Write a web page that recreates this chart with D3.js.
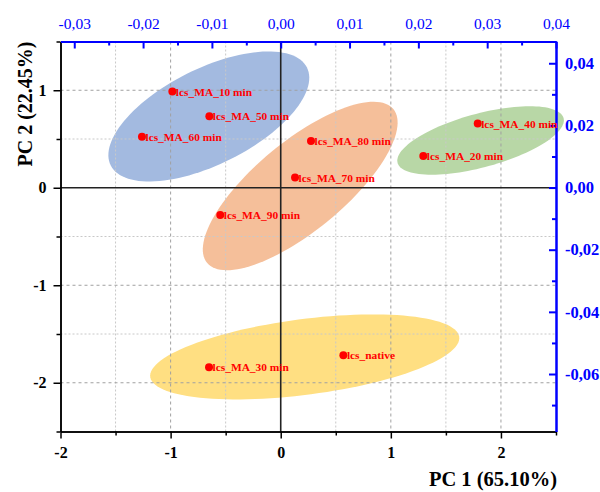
<!DOCTYPE html>
<html>
<head>
<meta charset="utf-8">
<script src="https://cdn.jsdelivr.net/npm/d3@7"></script>
<style>
  body { margin: 0; background: #fff; }
  svg { display: block; font-family: "Liberation Serif", "Times New Roman", serif; }
</style>
</head>
<body>
<svg id="chart"></svg>
<script>
// sample scores
const samples = ["lcs_MA_10 min", "lcs_MA_50 min", "lcs_MA_60 min", "lcs_MA_80 min", "lcs_MA_70 min",
                 "lcs_MA_40 min", "lcs_MA_20 min", "lcs_MA_90 min", "lcs_MA_30 min", "lcs_native"];
const pc1 = [-0.984, -0.648, -1.26, 0.275, 0.13, 1.789, 1.295, -0.549, -0.651, 0.569];
const pc2 = [0.987, 0.733, 0.523, 0.48, 0.105, 0.658, 0.325, -0.279, -1.841, -1.718];

// group ellipses (data units): centre, semi axes, tilt in degrees
const groupColors = ["#a3bae0", "#f5bf9a", "#b8d7a6", "#ffdf82"];
const groupCx = [-0.653, 0.177, 1.815, 0.218];
const groupCy = [0.731, 0.018, 0.485, -1.735];
const groupA = [1.024, 1.158, 0.788, 1.418];
const groupB = [0.478, 0.434, 0.273, 0.387];
const groupAngle = [30.9, 44.1, 17.4, 8.45];

// ticks
const xMajor = [-2, -1, 0, 1, 2];
const xMinor = [-1.5, -0.5, 0.5, 1.5, 2.5];
const yMajor = [1, 0, -1, -2];
const yMinor = [1.5, 0.5, -0.5, -1.5, -2.5];
const topMajor = [-0.03, -0.02, -0.01, 0, 0.01, 0.02, 0.03, 0.04];
const topMinor = [-0.025, -0.015, -0.005, 0.005, 0.015, 0.025, 0.035];
const rightMajor = [0.04, 0.02, 0, -0.02, -0.04, -0.06];
const rightMinor = [0.03, 0.01, -0.01, -0.03, -0.05, -0.07];

const width = 600, height = 492;
const mLeft = 60.5, mRight = 556, mTop = 41.5, mBottom = 431.5;

const svg = d3.select("#chart").attr("width", width).attr("height", height);

const x = d3.scaleLinear().domain([-2, 2.5]).range([mLeft, mRight]);
const y = d3.scaleLinear().domain([-2.5, 1.5]).range([mBottom, mTop]);
const xTop = d3.scaleLinear().domain([-0.032, 0.04]).range([mLeft, mRight]);
const yRight = d3.scaleLinear().domain([-0.0785, 0.047]).range([mBottom, mTop]);

const comma = d => (d < 0 ? "-" : "") + Math.abs(d).toFixed(2).replace(".", ",");
const plain = d => (d < 0 ? "-" : "") + Math.abs(d);

// ellipses
const line = d3.line().x(p => x(p[0])).y(p => y(p[1])).curve(d3.curveLinearClosed);
groupColors.forEach((c, i) => {
    const th = groupAngle[i] * Math.PI / 180;
    const pts = d3.range(0, 2 * Math.PI, Math.PI / 60).map(t => {
        const u = groupA[i] * Math.cos(t), v = groupB[i] * Math.sin(t);
        return [groupCx[i] + u * Math.cos(th) - v * Math.sin(th),
                groupCy[i] + u * Math.sin(th) + v * Math.cos(th)];
    });
    svg.append("path").attr("d", line(pts)).attr("fill", c);
});

// grid
const grid = svg.append("g");
xMajor.filter(d => d !== 0 && d !== -2).concat(xMinor.filter(d => d < 2.5)).forEach(d => {
    const major = xMajor.includes(d);
    grid.append("line")
        .attr("x1", x(d)).attr("x2", x(d)).attr("y1", mTop).attr("y2", mBottom)
        .attr("stroke", major ? "#a0a0a0" : "#c8c8c8")
        .attr("stroke-dasharray", major ? "3,3" : "2,2");
});
yMajor.filter(d => d !== 0).concat(yMinor.filter(d => d > -2.5 && d < 1.5)).forEach(d => {
    const major = yMajor.includes(d);
    grid.append("line")
        .attr("x1", mLeft).attr("x2", mRight).attr("y1", y(d)).attr("y2", y(d))
        .attr("stroke", major ? "#a0a0a0" : "#c8c8c8")
        .attr("stroke-dasharray", major ? "3,3" : "2,2");
});

// zero lines
svg.append("line").attr("x1", x(0)).attr("x2", x(0)).attr("y1", mTop).attr("y2", mBottom)
    .attr("stroke", "#222").attr("stroke-width", 1.6);
svg.append("line").attr("x1", mLeft).attr("x2", mRight).attr("y1", y(0)).attr("y2", y(0))
    .attr("stroke", "#222").attr("stroke-width", 1.6);

// axes
function styleAxis(g, color, w) {
    g.select(".domain").attr("stroke", color).attr("stroke-width", w);
    g.selectAll(".tick line").attr("stroke", color).attr("stroke-width", w);
}

const gB = svg.append("g").attr("transform", `translate(0,${mBottom})`)
    .call(d3.axisBottom(x).tickValues(xMajor).tickSize(7).tickPadding(8).tickFormat(plain).tickSizeOuter(0));
svg.append("g").attr("transform", `translate(0,${mBottom})`)
    .call(d3.axisBottom(x).tickValues(xMinor).tickSize(4).tickFormat("").tickSizeOuter(0))
    .call(g => styleAxis(g, "#000", 1.5));
styleAxis(gB, "#000", 1.5);
gB.selectAll("text").attr("font-size", 16).attr("font-weight", "bold").attr("fill", "#000")
    .attr("font-family", "Liberation Serif, serif");

const gL = svg.append("g").attr("transform", `translate(${mLeft},0)`)
    .call(d3.axisLeft(y).tickValues(yMajor).tickSize(7).tickPadding(7).tickFormat(plain).tickSizeOuter(0));
svg.append("g").attr("transform", `translate(${mLeft},0)`)
    .call(d3.axisLeft(y).tickValues(yMinor).tickSize(4).tickFormat("").tickSizeOuter(0))
    .call(g => styleAxis(g, "#000", 1.5));
styleAxis(gL, "#000", 1.5);
gL.selectAll("text").attr("font-size", 16).attr("font-weight", "bold").attr("fill", "#000")
    .attr("font-family", "Liberation Serif, serif");

const gT = svg.append("g").attr("transform", `translate(0,${mTop})`)
    .call(d3.axisTop(xTop).tickValues(topMajor).tickSize(-7).tickPadding(13).tickFormat(comma).tickSizeOuter(0));
svg.append("g").attr("transform", `translate(0,${mTop})`)
    .call(d3.axisTop(xTop).tickValues(topMinor).tickSize(-4).tickFormat("").tickSizeOuter(0))
    .call(g => styleAxis(g, "#0000ff", 2));
styleAxis(gT, "#0000ff", 2);
gT.selectAll("text").attr("font-size", 15.5).attr("fill", "#0000ff")
    .attr("font-family", "Liberation Serif, serif");

const gR = svg.append("g").attr("transform", `translate(${mRight},0)`)
    .call(d3.axisRight(yRight).tickValues(rightMajor).tickSize(-7).tickPadding(9).tickFormat(comma).tickSizeOuter(0));
svg.append("g").attr("transform", `translate(${mRight},0)`)
    .call(d3.axisRight(yRight).tickValues(rightMinor).tickSize(-4).tickFormat("").tickSizeOuter(0))
    .call(g => styleAxis(g, "#0000ff", 2));
styleAxis(gR, "#0000ff", 2);
gR.selectAll("text").attr("font-size", 16.5).attr("font-weight", "bold").attr("fill", "#0000ff")
    .attr("font-family", "Liberation Serif, serif");

// points + labels
const dots = svg.append("g");
samples.forEach((s, i) => {
    dots.append("circle").attr("cx", x(pc1[i])).attr("cy", y(pc2[i])).attr("r", 4).attr("fill", "#ff0000");
    dots.append("text").attr("x", x(pc1[i]) + 3.5).attr("y", y(pc2[i]) + 4)
        .attr("font-size", 11.4).attr("font-weight", "bold").attr("fill", "#ff0000").text(s);
});

// axis titles
svg.append("text").attr("transform", "translate(32,104) rotate(-90)")
    .attr("text-anchor", "middle").attr("font-size", 20).attr("font-weight", "bold").text("PC 2 (22.45%)");
svg.append("text").attr("x", 557).attr("y", 486)
    .attr("text-anchor", "end").attr("font-size", 20.5).attr("font-weight", "bold").text("PC 1 (65.10%)");
</script>
</body>
</html>
